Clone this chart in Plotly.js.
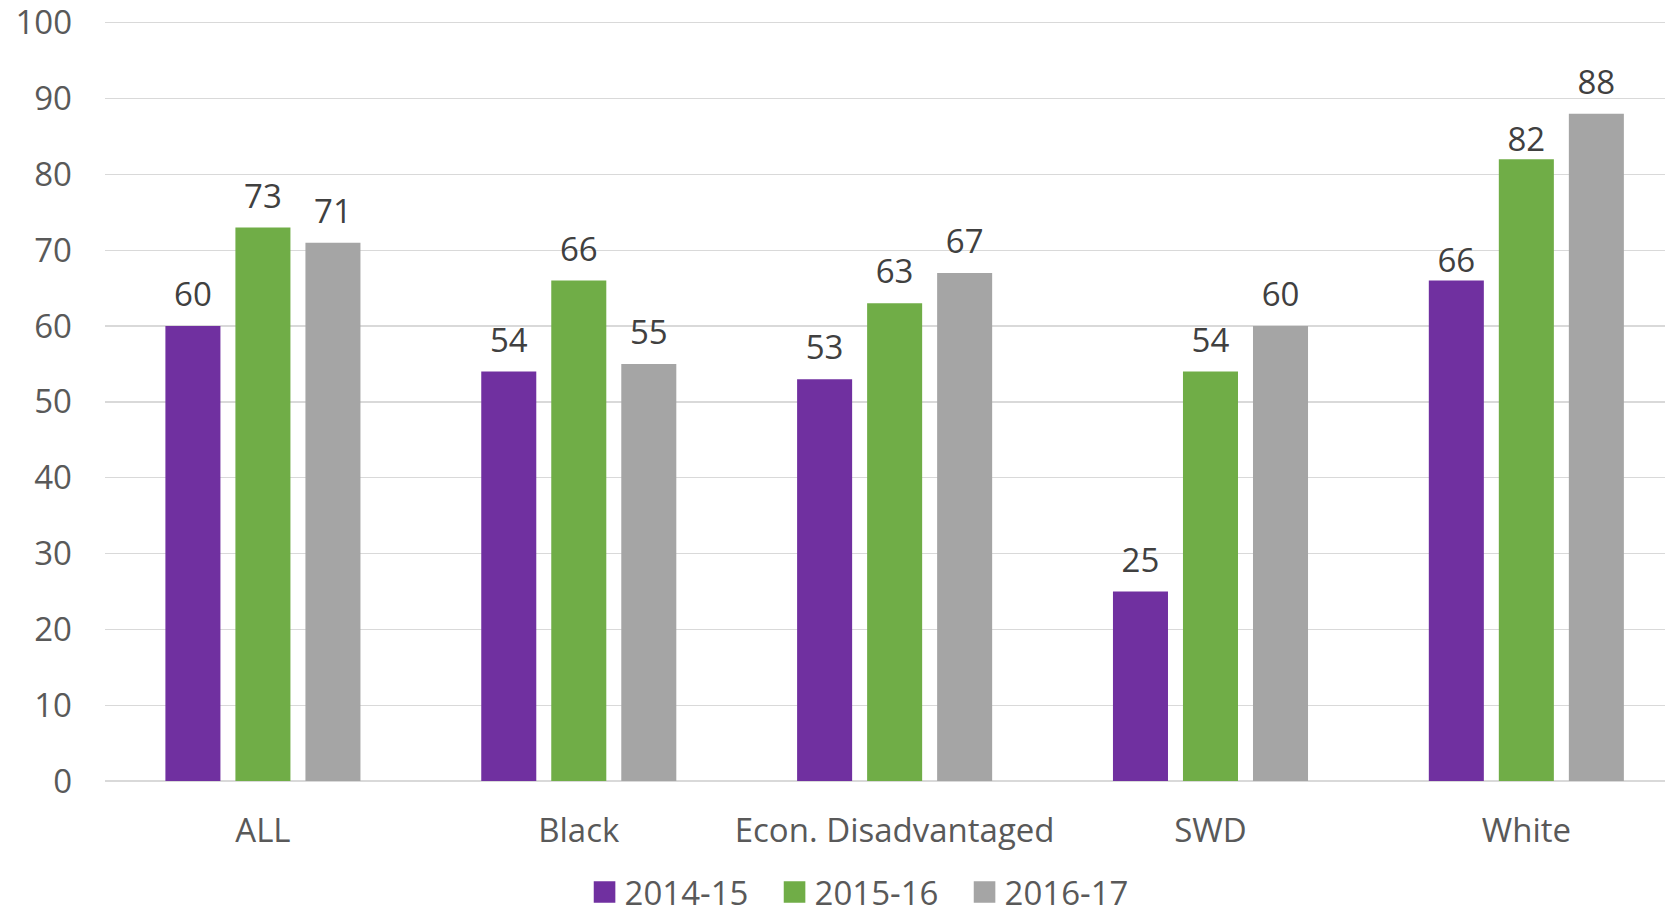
<!DOCTYPE html>
<html>
<head>
<meta charset="utf-8">
<script src="https://cdn.plot.ly/plotly-3.0.1.min.js"></script>
<style>html,body{margin:0;padding:0;overflow:hidden;background:#fff;}</style>
</head>
<body>
<div id="chart" style="width:1665px;height:913px;"></div>
<script>
const categories = ["ALL", "Black", "Econ. Disadvantaged", "SWD", "White"];
const seriesNames = ["2014-15", "2015-16", "2016-17"];
const values2014 = [60, 54, 53, 25, 66];
const values2015 = [73, 66, 63, 54, 82];
const values2016 = [71, 55, 67, 60, 88];
const yTicks = [0, 10, 20, 30, 40, 50, 60, 70, 80, 90, 100];

const colors = ["#7030A0", "#70AD47", "#A5A5A5"];
const allValues = [values2014, values2015, values2016];
const labelOffsets = [
  [17, 17, 17, 17, 0],
  [17, 17, 17, 17, 0],
  [17, 17, 17, 17, 17]
];
const FONT = "Open Sans, Liberation Sans, sans-serif";

const traces = [];
allValues.forEach((vals, i) => {
  traces.push({
    type: "bar",
    name: seriesNames[i],
    x: categories,
    y: vals,
    marker: {color: colors[i]},
    hoverinfo: "x+y+name"
  });
});
allValues.forEach((vals, i) => {
  traces.push({
    type: "scatter",
    mode: "markers+text",
    x: categories,
    y: vals,
    text: vals.map(String),
    textposition: "top center",
    textfont: {family: FONT, size: 33, color: "#404040"},
    marker: {size: labelOffsets[i], opacity: 0, color: colors[i]},
    showlegend: false,
    hoverinfo: "skip",
    cliponaxis: false
  });
});

const layout = {
  width: 1665,
  height: 913,
  margin: {l: 105, r: 0, t: 19, b: 132, autoexpand: false},
  paper_bgcolor: "#ffffff",
  plot_bgcolor: "#ffffff",
  barmode: "group",
  bargap: 0.335,
  bargroupgap: 0.214,
  scattermode: "group",
  scattergap: 0.335,
  font: {family: FONT, color: "#595959", size: 33},
  xaxis: {
    type: "category",
    range: [-0.5, 4.439],
    showgrid: false,
    ticks: "",
    showline: false,
    zeroline: false,
    automargin: false,
    ticklabeloverflow: "allow",
    tickfont: {family: FONT, size: 33, color: "#595959"},
    ticklabelstandoff: 27
  },
  yaxis: {
    range: [0, 100.5],
    tickvals: yTicks,
    ticktext: yTicks.map(String),
    showgrid: true,
    gridcolor: "#D9D9D9",
    gridwidth: 1.3,
    zeroline: true,
    zerolinecolor: "#D9D9D9",
    zerolinewidth: 1.3,
    showline: false,
    automargin: false,
    ticklabeloverflow: "allow",
    ticks: "",
    tickfont: {family: FONT, size: 33, color: "#595959"},
    ticklabelstandoff: 32
  },
  showlegend: true,
  legend: {
    orientation: "h",
    x: 0.3074,
    xanchor: "left",
    y: -0.1457,
    yanchor: "middle",
    entrywidth: 145,
    font: {family: FONT, size: 33, color: "#595959"},
    itemclick: false,
    itemdoubleclick: false
  }
};

Plotly.newPlot("chart", traces, layout, {displayModeBar: false, staticPlot: true}).then(() => {
  document.querySelectorAll(".legendpoints path").forEach(p => {
    const t = p.getAttribute("transform") || "";
    p.setAttribute("transform", t + " scale(1.8)");
  });
});
</script>
</body>
</html>
